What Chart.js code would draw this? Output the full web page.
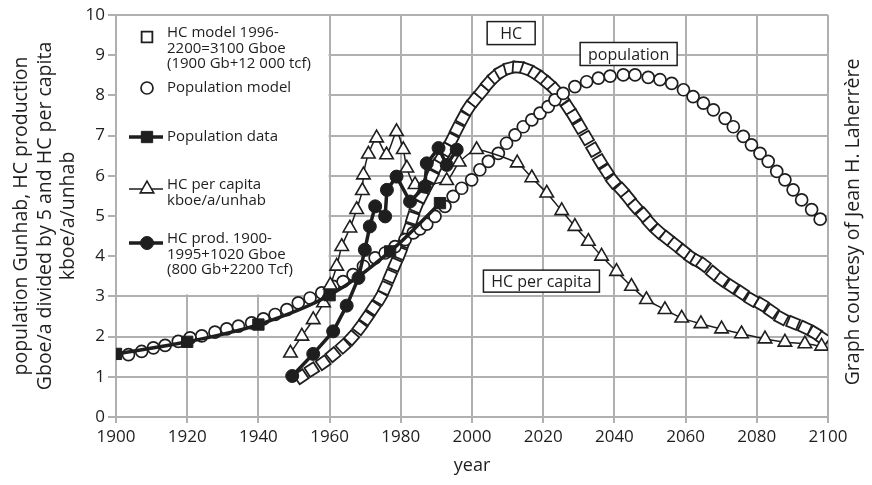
<!DOCTYPE html>
<html>
<head>
<meta charset="utf-8">
<script src="https://cdn.jsdelivr.net/npm/chart.js@4.4.1/dist/chart.umd.min.js"></script>
<style>
  html, body { margin: 0; padding: 0; background: #fff; }
</style>
</head>
<body>
<canvas id="chart" width="872" height="485"></canvas>
<script>
// tick values
const xTicks = [1900, 1920, 1940, 1960, 1980, 2000, 2020, 2040, 2060, 2080, 2100];
const yTicks = [0, 1, 2, 3, 4, 5, 6, 7, 8, 9, 10];

// HC model 1996-2200 (open squares)
const hcModelYears = [1952, 1955, 1958.2, 1961, 1963.8, 1966.2, 1968.5, 1970.4, 1972.3, 1974.2,
    1975.6, 1977, 1978.4, 1979.8, 1981, 1982.3, 1983.3, 1984.4, 1985.8, 1987.2,
    1988.7, 1990.1, 1991.5, 1992.8, 1994.3, 1995.8, 1997.4, 1999, 2000.8, 2002.7,
    2004.6, 2006.5, 2008.3, 2010.7, 2013, 2015.4, 2017.7, 2019.6, 2021.4, 2023.3,
    2025.2, 2027, 2028.6, 2030.3, 2032.2, 2034.1, 2036, 2037.8, 2039.7, 2042,
    2043.9, 2045.8, 2048.1, 2050, 2052.3, 2054.7, 2057, 2059.4, 2061.7, 2063.3,
    2065, 2067.8, 2070.1, 2072.9, 2075.7, 2078.5, 2081.3, 2084.1, 2086.9, 2090.2,
    2093.5, 2096.3, 2098.6];
const hcModelValues = [1.0, 1.18, 1.35, 1.55, 1.76, 1.97, 2.22, 2.46, 2.71, 2.96,
    3.21, 3.5, 3.79, 4.08, 4.37, 4.66, 4.95, 5.24, 5.49, 5.73,
    5.98, 6.25, 6.45, 6.65, 6.89, 7.16, 7.43, 7.68, 7.89, 8.09,
    8.3, 8.47, 8.59, 8.68, 8.7, 8.65, 8.55, 8.43, 8.3, 8.14,
    7.93, 7.7, 7.48, 7.22, 6.94, 6.65, 6.36, 6.11, 5.86, 5.65,
    5.45, 5.24, 5.03, 4.82, 4.62, 4.45, 4.29, 4.12, 3.96, 3.88,
    3.79, 3.58, 3.42, 3.25, 3.09, 2.92, 2.8, 2.63, 2.46, 2.34,
    2.22, 2.09, 1.95];

// Population model (open circles)
const popModelYears = [1903.5, 1907.2, 1910.5, 1913.8, 1917.5, 1920.8, 1924.1, 1927.8, 1931.1, 1934.4,
    1938.1, 1941.4, 1944.7, 1948, 1951.2, 1954.5, 1957.8, 1961, 1963.8, 1966.6,
    1969.5, 1972.8, 1975.6, 1978.4, 1981.2, 1983.5, 1985.4, 1987.3, 1989.6, 1992.4,
    1994.7, 1997.1, 1999.9, 2002.2, 2004.6, 2007.4, 2009.7, 2012.1, 2014.4, 2016.8,
    2019.1, 2021.4, 2023.3, 2025.6, 2028.9, 2032.2, 2035.5, 2038.8, 2042.5, 2045.8,
    2049.5, 2052.8, 2056.1, 2059.4, 2062.1, 2065, 2067.8, 2071.1, 2073.4, 2076.2,
    2078.5, 2080.9, 2083.2, 2085.6, 2087.9, 2090.2, 2092.6, 2095.4, 2097.8];
const popModelValues = [1.55, 1.63, 1.72, 1.78, 1.88, 1.97, 2.02, 2.11, 2.19, 2.26,
    2.34, 2.44, 2.55, 2.67, 2.84, 2.96, 3.09, 3.25, 3.37, 3.54,
    3.75, 3.96, 4.08, 4.24, 4.41, 4.58, 4.68, 4.8, 4.99, 5.24,
    5.49, 5.69, 5.9, 6.15, 6.36, 6.56, 6.81, 7.02, 7.22, 7.39,
    7.56, 7.72, 7.89, 8.05, 8.22, 8.34, 8.43, 8.48, 8.51, 8.51,
    8.45, 8.39, 8.3, 8.14, 7.97, 7.81, 7.64, 7.43, 7.22, 6.98,
    6.77, 6.56, 6.36, 6.11, 5.9, 5.65, 5.4, 5.16, 4.92];

// Population data (filled squares, thick line)
const popDataYears = [1900, 1920, 1940, 1960, 1977, 1991];
const popDataValues = [1.57, 1.87, 2.3, 3.03, 4.12, 5.32];

// HC per capita (open triangles, thin line)
const hcCapitaYears = [1949, 1952.2, 1955.4, 1958.3, 1960.2, 1962, 1963.4, 1965.7, 1967.6, 1969.2,
    1969.5, 1970.9, 1973.2, 1976, 1978.8, 1980.7, 1981.7, 1984, 1992.9, 1996.4,
    2001.3, 2012.7, 2016.8, 2021, 2025.2, 2028.9, 2032.7, 2036.4, 2040.6, 2044.8,
    2049, 2054.2, 2058.9, 2064.3, 2070.1, 2075.7, 2082.3, 2087.9, 2093.5, 2098.2];
const hcCapitaValues = [1.59, 2.01, 2.42, 2.84, 3.28, 3.75, 4.24, 4.7, 5.16, 5.63,
    6.02, 6.54, 6.94, 6.52, 7.1, 6.65, 6.19, 5.78, 5.88, 6.34,
    6.65, 6.32, 5.95, 5.57, 5.13, 4.74, 4.37, 4.0, 3.62, 3.25,
    2.92, 2.67, 2.46, 2.32, 2.19, 2.07, 1.94, 1.86, 1.82, 1.76];

// HC production 1900-1995 (filled circles, thick line)
const hcProdYears = [1949.5, 1955.4, 1961, 1964.8, 1968.1, 1969.9, 1971.3, 1972.8, 1975.6, 1976.1,
    1978.8, 1982.6, 1986.7, 1987.3, 1990.6, 1992.9, 1995.7];
const hcProdValues = [1.02, 1.57, 2.13, 2.77, 3.46, 4.16, 4.74, 5.24, 4.99, 5.65,
    5.98, 5.36, 5.73, 6.31, 6.69, 6.27, 6.65];

const legendLabels = [
    ["HC model 1996-", "2200=3100 Gboe", "(1900 Gb+12 000 tcf)"],
    ["Population model"],
    ["Population data"],
    ["HC per capita", "kboe/a/unhab"],
    ["HC prod. 1900-", "1995+1020 Gboe", "(800 Gb+2200 Tcf)"]
];
const yTitle = ["population Gunhab, HC production", "Gboe/a divided by 5 and HC per capita", "kboe/a/unhab"];
const xTitle = "year";
const credit = "Graph courtesy of Jean H. Laherrère";

const FONT = "'Open Sans', 'DejaVu Sans', sans-serif";
const INK = "#1e1e1e";
const GRID = "#b0b0b0";

function pts(xs, ys) {
    return xs.map((x, i) => ({ x: x, y: ys[i] }));
}

// squares follow the direction of the curve
function alongCurve(c) {
    const ch = c.chart, sx = ch.scales.x, sy = ch.scales.y;
    const d = c.dataset.data, i = c.dataIndex;
    if (!sx || !sy || i === undefined) return 0;
    const a = d[Math.max(i - 1, 0)], b = d[Math.min(i + 1, d.length - 1)];
    const dx = sx.getPixelForValue(b.x) - sx.getPixelForValue(a.x);
    const dy = sy.getPixelForValue(b.y) - sy.getPixelForValue(a.y);
    return Math.atan2(dy, dx) * 180 / Math.PI;
}

const styles = [
    { pointStyle: "rect", pointRadius: 7.6, backgroundColor: "#fff", borderWidth: 1.8, line: 0 },
    { pointStyle: "circle", pointRadius: 6, backgroundColor: "#fff", borderWidth: 1.7, line: 0 },
    { pointStyle: "rect", pointRadius: 8, backgroundColor: INK, borderWidth: 1, line: 3.5 },
    { pointStyle: "triangle", pointRadius: 7.8, backgroundColor: "#fff", borderWidth: 1.6, line: 1.5 },
    { pointStyle: "circle", pointRadius: 6.5, backgroundColor: INK, borderWidth: 1, line: 3.5 }
];

function textBox(ctx, label, cx, cy, w, h) {
    ctx.save();
    ctx.fillStyle = "#fff";
    ctx.strokeStyle = INK;
    ctx.lineWidth = 1.5;
    ctx.fillRect(cx - w / 2, cy - h / 2, w, h);
    ctx.strokeRect(cx - w / 2, cy - h / 2, w, h);
    ctx.fillStyle = INK;
    ctx.font = "16px " + FONT;
    ctx.textAlign = "center";
    ctx.textBaseline = "middle";
    ctx.fillText(label, cx, cy + 1);
    ctx.restore();
}

const decor = {
    id: "decor",
    beforeDatasetsDraw(chart) {
        const ctx = chart.ctx, area = chart.chartArea;
        const sx = chart.scales.x, sy = chart.scales.y;
        // legend panel hides the grid
        ctx.save();
        ctx.fillStyle = "#fff";
        const r = sx.getPixelForValue(1960) - 1, b = sy.getPixelForValue(3) - 2;
        ctx.fillRect(area.left + 1, area.top + 1, r - area.left - 1, b - area.top - 1);

        const mx = area.left + 31, tx = area.left + 51;
        const rows = [area.top + 22, area.top + 73, area.top + 122, area.top + 174, area.top + 228];
        const spacing = 15.5;
        ctx.font = "15px " + FONT;
        ctx.textBaseline = "middle";
        ctx.textAlign = "left";
        legendLabels.forEach((lines, k) => {
            const s = styles[k];
            const y = rows[k];
            if (s.line) {
                ctx.strokeStyle = INK;
                ctx.lineWidth = s.line;
                ctx.beginPath();
                ctx.moveTo(mx - 18, y);
                ctx.lineTo(mx + 16, y);
                ctx.stroke();
            }
            ctx.fillStyle = s.backgroundColor;
            ctx.strokeStyle = INK;
            ctx.lineWidth = s.borderWidth;
            Chart.helpers.drawPoint(ctx, {
                pointStyle: s.pointStyle, radius: s.pointRadius, rotation: 0, borderWidth: s.borderWidth
            }, mx, y);
            ctx.fillStyle = INK;
            const lift = lines.length > 1 ? 4 : 0;
            lines.forEach((t, j) => ctx.fillText(t, tx, y - lift + j * spacing));
        });
        ctx.restore();
    },
    afterDatasetsDraw(chart) {
        const ctx = chart.ctx, sx = chart.scales.x, sy = chart.scales.y;
        textBox(ctx, "HC", sx.getPixelForValue(2011), sy.getPixelForValue(9.55), 48, 23);
        textBox(ctx, "population", sx.getPixelForValue(2044), sy.getPixelForValue(9.03), 97, 23);
        textBox(ctx, "HC per capita", sx.getPixelForValue(2019.5), sy.getPixelForValue(3.38), 116, 22);
    },
    afterDraw(chart) {
        const ctx = chart.ctx, area = chart.chartArea;
        const midY = (area.top + area.bottom) / 2;
        ctx.save();
        ctx.fillStyle = INK;
        ctx.textAlign = "center";
        ctx.textBaseline = "middle";
        ctx.font = "18px " + FONT;
        ctx.fillText(xTitle, (area.left + area.right) / 2, 466);
        ctx.font = "19.5px " + FONT;
        ctx.translate(0, midY);
        ctx.rotate(-Math.PI / 2);
        ctx.fillText(yTitle[0], 0, 21);
        ctx.fillText(yTitle[1], 0, 45);
        ctx.fillText(yTitle[2], 0, 68);
        ctx.restore();

        ctx.save();
        ctx.fillStyle = INK;
        ctx.textAlign = "center";
        ctx.textBaseline = "middle";
        ctx.font = "19.5px " + FONT;
        ctx.translate(853, midY + 6);
        ctx.rotate(-Math.PI / 2);
        ctx.fillText(credit, 0, 0);
        ctx.restore();
    }
};

function dataset(label, xs, ys, k, order, extra) {
    const s = styles[k];
    return Object.assign({
        label: label,
        data: pts(xs, ys),
        order: order,
        showLine: s.line > 0,
        borderColor: INK,
        borderWidth: s.line,
        pointStyle: s.pointStyle,
        pointRadius: s.pointRadius,
        pointHoverRadius: s.pointRadius,
        pointBackgroundColor: s.backgroundColor,
        pointBorderColor: INK,
        pointBorderWidth: s.borderWidth,
        fill: false
    }, extra || {});
}

new Chart(document.getElementById("chart"), {
    type: "scatter",
    data: {
        datasets: [
            dataset("HC model", hcModelYears, hcModelValues, 0, 4, { pointRotation: alongCurve }),
            dataset("Population model", popModelYears, popModelValues, 1, 3),
            dataset("Population data", popDataYears, popDataValues, 2, 1, { tension: 0.35 }),
            dataset("HC per capita", hcCapitaYears, hcCapitaValues, 3, 2, { tension: 0.2 }),
            dataset("HC prod.", hcProdYears, hcProdValues, 4, 0, { tension: 0 })
        ]
    },
    options: {
        responsive: false,
        animation: false,
        layout: { padding: { left: 0, right: 44, top: 15, bottom: 0 } },
        scales: {
            x: {
                type: "linear",
                min: 1900,
                max: 2100,
                afterBuildTicks: (s) => { s.ticks = xTicks.map((v) => ({ value: v })); },
                afterFit: (s) => { s.height = 68; },
                ticks: {
                    color: INK,
                    font: { family: FONT, size: 17 },
                    padding: 4,
                    maxRotation: 0,
                    callback: (v) => String(v)
                },
                grid: { color: GRID, lineWidth: 2, tickLength: 6 },
                border: { color: GRID, width: 2 }
            },
            y: {
                min: 0,
                max: 10,
                afterBuildTicks: (s) => { s.ticks = yTicks.map((v) => ({ value: v })); },
                afterFit: (s) => { s.width = 116; },
                ticks: {
                    color: INK,
                    font: { family: FONT, size: 17 },
                    padding: 3,
                    callback: (v) => String(v)
                },
                grid: { color: GRID, lineWidth: 2, tickLength: 8 },
                border: { color: GRID, width: 2 }
            }
        },
        plugins: {
            legend: { display: false },
            tooltip: { enabled: false }
        }
    },
    plugins: [decor]
});
</script>
</body>
</html>
